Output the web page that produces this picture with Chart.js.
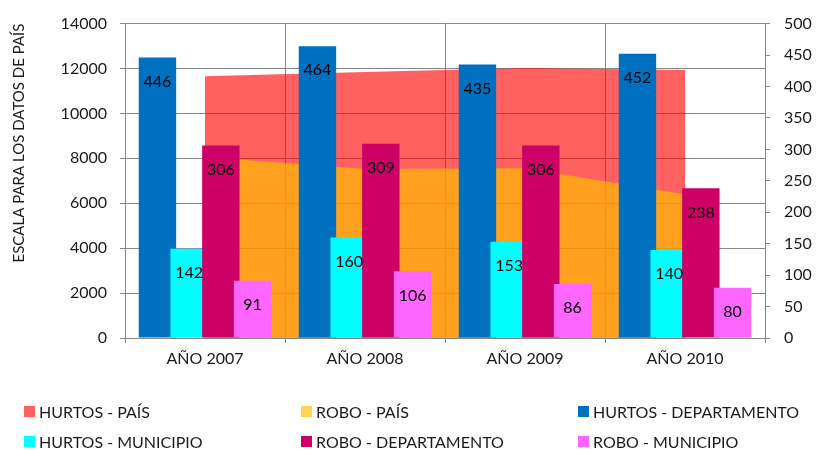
<!DOCTYPE html>
<html>
<head>
<meta charset="utf-8">
<script src="https://cdn.jsdelivr.net/npm/chart.js@4.4.1/dist/chart.umd.min.js"></script>
<style>
  html, body { margin: 0; padding: 0; background: #fff; }
  #wrap { position: relative; width: 820px; height: 450px; }
  #c { position: absolute; left: 0; top: 0; }
  .lg { position: absolute; font-family: Lato, sans-serif; font-size: 16px; color: #1a1a1a; white-space: nowrap; line-height: 18px; }
  .lg i { position: absolute; left: 0; top: 3px; width: 11px; height: 11px; }
  .lg span { position: absolute; left: 15px; top: 0; }
</style>
</head>
<body>
<div id="wrap">
  <canvas id="c" width="820" height="450"></canvas>
  <div id="legend"></div>
</div>
<script>
// ---- data ----
const categories = ['AÑO 2007', 'AÑO 2008', 'AÑO 2009', 'AÑO 2010'];
const seriesNames = ['HURTOS - PAÍS', 'ROBO - PAÍS', 'HURTOS - DEPARTAMENTO', 'HURTOS - MUNICIPIO', 'ROBO - DEPARTAMENTO', 'ROBO - MUNICIPIO'];
const hurtosPais = [11650, 11850, 12020, 11930];
const roboPais = [8060, 7520, 7560, 6390];
const hurtosDepartamento = [446, 464, 435, 452];
const hurtosMunicipio = [142, 160, 153, 140];
const roboDepartamento = [306, 309, 306, 238];
const roboMunicipio = [91, 106, 86, 80];
const leftAxisTitle = 'ESCALA PARA LOS DATOS DE PAÍS';

const colors = ['rgba(255,0,0,0.62)', 'rgba(255,192,0,0.68)', '#0070C0', '#00FFFF', '#CC0066', '#FF66FF'];
const gridColor = '#888888';
const textColor = '#1a1a1a';
const font16 = { family: 'Lato', size: 16 };

function areaDs(i, data) {
  return {
    type: 'line', label: seriesNames[i], data: data, yAxisID: 'y',
    backgroundColor: colors[i], borderColor: colors[i], borderWidth: 0,
    pointRadius: 0, tension: 0, fill: 'origin'
  };
}
function barDs(i, data) {
  return {
    type: 'bar', label: seriesNames[i], data: data, yAxisID: 'y1',
    backgroundColor: colors[i], borderWidth: 0,
    categoryPercentage: 0.7925, barPercentage: 1.18
  };
}

// draw datasets in index order (later series on top)
const orderPlugin = {
  id: 'orderPlugin',
  beforeDatasetsDraw(chart) {
    const metas = chart.getSortedVisibleDatasetMetas();
    for (let i = 0; i < metas.length; i++) chart._drawDataset(metas[i]);
    return false;
  },
  afterDraw(chart) {
    const ctx = chart.ctx;
    ctx.save();
    ctx.font = '16px Lato';
    ctx.fillStyle = '#000';
    ctx.textAlign = 'center';
    ctx.textBaseline = 'middle';
    chart.data.datasets.forEach((ds, di) => {
      if (ds.type !== 'bar') return;
      const meta = chart.getDatasetMeta(di);
      meta.data.forEach((el, j) => {
        ctx.fillText(String(ds.data[j]), el.x, el.y + 24);
      });
    });
    ctx.restore();
  }
};

const plain = v => String(v);

const chart = new Chart(document.getElementById('c'), {
  type: 'bar',
  data: {
    labels: categories,
    datasets: [
      areaDs(0, hurtosPais),
      areaDs(1, roboPais),
      barDs(2, hurtosDepartamento),
      barDs(3, hurtosMunicipio),
      barDs(4, roboDepartamento),
      barDs(5, roboMunicipio)
    ]
  },
  options: {
    responsive: false,
    animation: false,
    devicePixelRatio: 1,
    layout: { padding: { top: 22, left: 0, right: 0, bottom: 0 } },
    plugins: { legend: { display: false }, tooltip: { enabled: false } },
    scales: {
      x: {
        offset: true,
        grid: { offset: true, color: gridColor, lineWidth: 1, tickLength: 5, drawTicks: true },
        border: { color: gridColor },
        ticks: { font: font16, color: textColor, padding: 6, maxRotation: 0 },
        afterFit(s) { s.height = 112; }
      },
      y: {
        position: 'left', min: 0, max: 14000,
        ticks: { stepSize: 2000, font: font16, color: textColor, padding: 13, callback: plain },
        grid: { color: gridColor, lineWidth: 1, tickLength: 5 },
        border: { color: gridColor },
        title: { display: true, text: leftAxisTitle, font: { family: 'Lato', size: 15 }, color: textColor, align: 'end', padding: { top: 10, bottom: 0 } },
        afterFit(s) { s.width = 125; }
      },
      y1: {
        position: 'right', min: 0, max: 500,
        ticks: { stepSize: 50, font: font16, color: textColor, padding: 14, callback: plain },
        grid: { drawOnChartArea: false, color: gridColor, lineWidth: 1, tickLength: 5 },
        border: { color: gridColor },
        afterFit(s) { s.width = 55; }
      }
    }
  },
  plugins: [orderPlugin]
});

// HTML legend from chart datasets, in a 3-column grid
const legendEl = document.getElementById('legend');
const colX = [24, 301, 578];
const rowY = [403, 433];
chart.data.datasets.forEach((ds, i) => {
  const d = document.createElement('div');
  d.className = 'lg';
  d.style.left = colX[i % 3] + 'px';
  d.style.top = rowY[Math.floor(i / 3)] + 'px';
  const sq = document.createElement('i');
  sq.style.background = ds.backgroundColor;
  const t = document.createElement('span');
  t.textContent = ds.label;
  d.appendChild(sq); d.appendChild(t);
  legendEl.appendChild(d);
});
</script>
</body>
</html>
